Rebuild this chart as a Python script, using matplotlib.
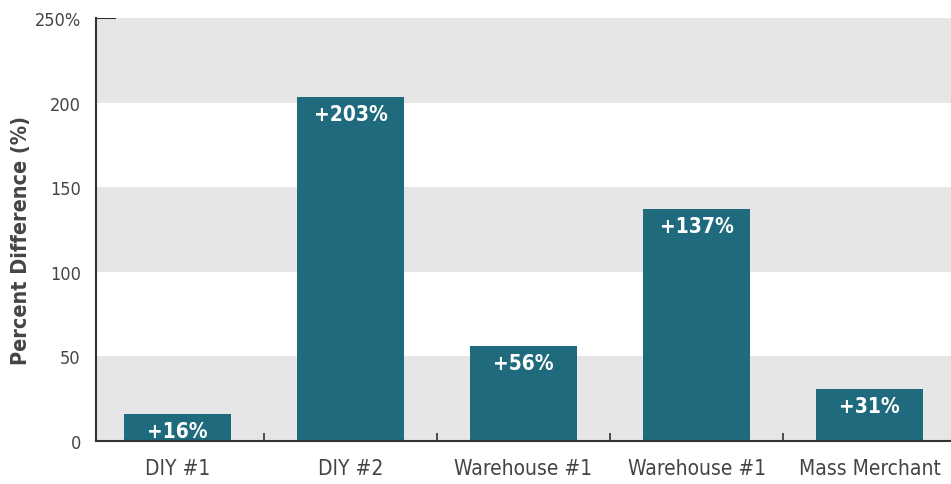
import matplotlib
matplotlib.use("Agg")
import matplotlib.pyplot as plt

categories = ["DIY #1", "DIY #2", "Warehouse #1", "Warehouse #1", "Mass Merchant"]
values = [16, 203, 56, 137, 31]
bar_labels = ["+16%", "+203%", "+56%", "+137%", "+31%"]
yticks = [0, 50, 100, 150, 200, 250]
ytick_labels = ["0", "50", "100", "150", "200", "250%"]
ylabel = "Percent Difference (%)"

plt.rcParams["font.family"] = ["DejaVu Sans"]
plt.rcParams["font.stretch"] = "condensed"

BAR = "#1f6a7c"
BAND = "#e6e6e6"
TXT = "#444444"

fig = plt.figure(figsize=(9.51, 4.85), dpi=100)
ax = fig.add_axes([0.101, 0.0887, 0.899, 0.8723])

for i, lo in enumerate(yticks[:-1]):
    if i % 2 == 0:
        ax.axhspan(lo, yticks[i + 1], color=BAND, lw=0, zorder=0)

x = list(range(len(categories)))
ax.bar(x, values, width=0.62, color=BAR, zorder=2)
for xi, v, lab in zip(x, values, bar_labels):
    ax.annotate(lab, (xi, v), xytext=(0, -17), textcoords="offset pixels",
                ha="center", va="center", color="white", fontsize=15, fontweight="bold",
                fontstretch="condensed", zorder=3)

ax.set_xlim(-0.47, 4.47)
ax.set_ylim(0, 250)

ax.set_xticks(x)
ax.set_xticklabels(categories, fontsize=15, color=TXT, fontstretch="condensed")
ax.set_xticks([0.5, 1.5, 2.5, 3.5], minor=True)
ax.tick_params(axis="x", which="major", length=0, pad=12)
ax.tick_params(axis="x", which="minor", direction="in", length=6, width=1.2, color="#333333")

ax.set_yticks(yticks)
ax.set_yticklabels(ytick_labels, fontsize=13, color=TXT, fontstretch="condensed")
ax.tick_params(axis="y", length=0, pad=11)
ax.hlines(250, -0.47, -0.47 + 20 / 173, color="#333333", lw=1.5, zorder=4)

fig.text(21 / 951, 0.505, ylabel, rotation=90, ha="center", va="center",
         fontsize=15.5, fontweight="bold", color=TXT, fontstretch="condensed")

for s in ["top", "right"]:
    ax.spines[s].set_visible(False)
for s in ["left", "bottom"]:
    ax.spines[s].set_color("#333333")
    ax.spines[s].set_linewidth(1.5)
    ax.spines[s].set_zorder(4)

fig.savefig("out.png", dpi=100)
